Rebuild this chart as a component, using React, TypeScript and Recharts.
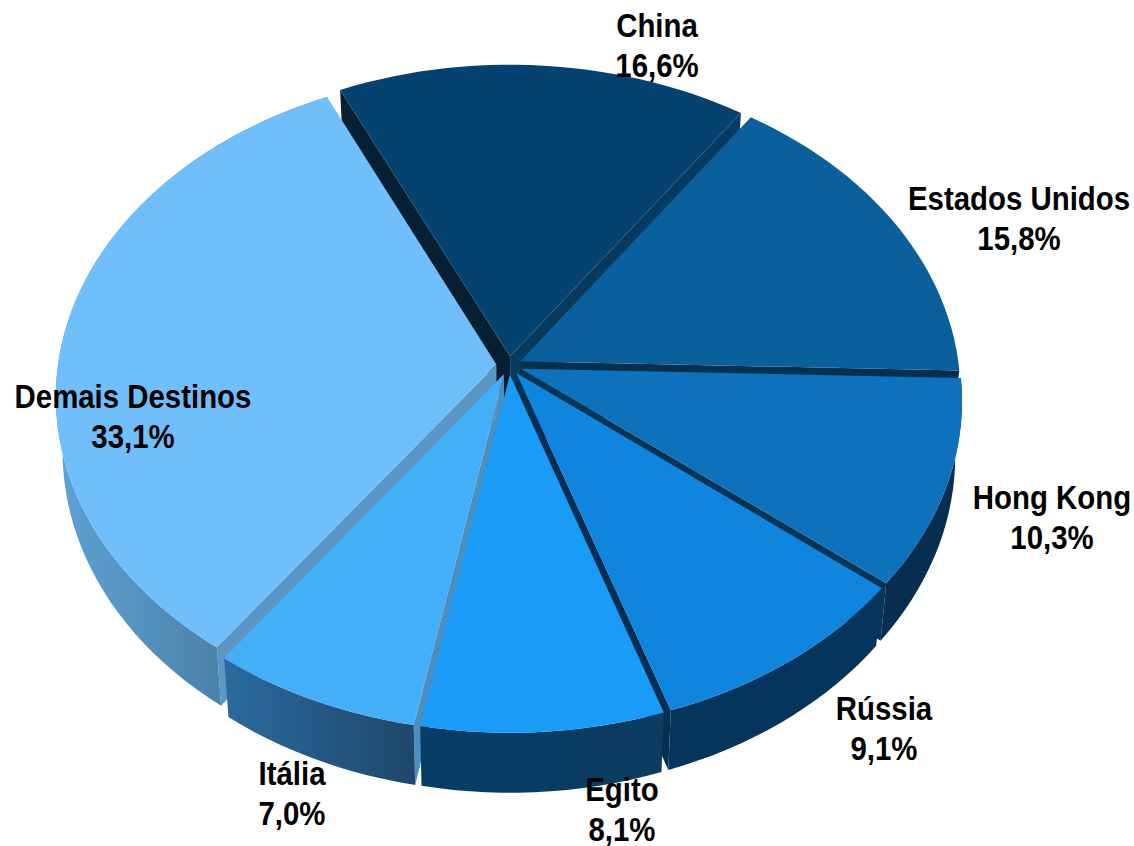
import { PieChart, Pie, Cell } from 'recharts';

const destinations = ['China', 'Estados Unidos', 'Hong Kong', 'Rússia', 'Egito', 'Itália', 'Demais Destinos'];
const shares = [16.6, 15.8, 10.3, 9.1, 8.1, 7.0, 33.1];

const faceColors = ['#05426f', '#0a609d', '#0d72bb', '#1085de', '#1a9bf8', '#44aff8', '#70bffb'];
const rimFills = ['none', 'none', '#072e4e', '#05355c', 'url(#rimEgito)', 'url(#rimItalia)', 'url(#rimDemais)'];
const startWalls = ['#061f33', null, null, null, null, '#4a8fc0', '#5b97c4'];
const endWalls = ['#073a5f', '#05304f', '#063457', '#052f52', null, null, null];

// label centre x and the baselines of both lines
const labelX = [657, 1019, 1052, 884, 622, 292, 133];
const labelY = [37, 210, 509, 720, 801, 785, 408];

const data = destinations.map((name, i) => ({ name, value: shares[i] }));

const WIDTH = 1134;
const HEIGHT = 846;
const CX = 509;
const CY = 365.5;
const RX = 453;
const SQUASH = 0.733; // ry / rx
const TILT = 0.1; // perspective strength
const EXPLODE = 0.028;
const RIM = 0.968;
const DEPTH = 54;

const rad = (deg: number) => (deg * Math.PI) / 180;

// disk coordinates (u right, v towards the viewer) to the screen
function project(u: number, v: number, lowered = false) {
  const w = 1 - TILT * v;
  let x = CX + (RX * u) / w;
  let y = CY + (RX * SQUASH * v) / w;
  if (lowered) {
    x = CX + (x - CX) * 0.985;
    y += DEPTH / w;
  }
  return [x, y];
}

function sliceGeometry(props: any) {
  const { startAngle, endAngle } = props;
  const mid = rad((startAngle + endAngle) / 2);
  const ou = Math.cos(mid) * EXPLODE;
  const ov = -Math.sin(mid) * EXPLODE;
  const steps = Math.max(4, Math.ceil(Math.abs(startAngle - endAngle) / 2));
  const rim: number[][] = [];
  for (let i = 0; i <= steps; i++) {
    const a = rad(startAngle + ((endAngle - startAngle) * i) / steps);
    rim.push([ou + Math.cos(a) * RIM, ov - Math.sin(a) * RIM]);
  }
  return { apex: [ou, ov], rim };
}

const toPath = (pts: number[][]) =>
  'M' + pts.map((p) => `${p[0].toFixed(1)},${p[1].toFixed(1)}`).join('L') + 'Z';

function sideWalls(props: any) {
  const { apex, rim } = sliceGeometry(props);
  const i = props.index ?? data.findIndex((d) => d.name === props.name);
  const wall = (edge: number[], fill: string) => (
    <path
      d={toPath([
        project(apex[0], apex[1]),
        project(edge[0], edge[1]),
        project(edge[0], edge[1], true),
        project(apex[0], apex[1], true),
      ])}
      fill={fill}
    />
  );
  return (
    <g>
      {startWalls[i] && wall(rim[0], startWalls[i] as string)}
      {endWalls[i] && wall(rim[rim.length - 1], endWalls[i] as string)}
    </g>
  );
}

function rimWall(props: any) {
  const { rim } = sliceGeometry(props);
  const i = props.index ?? data.findIndex((d) => d.name === props.name);
  const top = rim.map((p) => project(p[0], p[1]));
  const bottom = rim.map((p) => project(p[0], p[1], true)).reverse();
  return <path d={toPath([...top, ...bottom])} fill={rimFills[i]} />;
}

function topFace(props: any) {
  const { apex, rim } = sliceGeometry(props);
  const pts = [project(apex[0], apex[1]), ...rim.map((p) => project(p[0], p[1]))];
  return <path d={toPath(pts)} fill={props.fill} />;
}

function sliceLabel(props: any) {
  const i = props.index;
  const pct = `${shares[i].toFixed(1).replace('.', ',')}%`;
  return (
    <g transform={`translate(${labelX[i]},${labelY[i]}) scale(0.865,1)`} key={destinations[i]}>
      <text
        textAnchor="middle"
        fontFamily="'Liberation Sans', Arial, sans-serif"
        fontWeight="bold"
        fontSize={34}
        fill="#000"
      >
        <tspan x={0} y={0}>{destinations[i]}</tspan>
        <tspan x={0} y={40}>{pct}</tspan>
      </text>
    </g>
  );
}

const pieProps = {
  data,
  dataKey: 'value',
  nameKey: 'name',
  cx: CX,
  cy: CY,
  innerRadius: 0,
  outerRadius: RX,
  startAngle: 115,
  endAngle: -245,
  stroke: 'none',
  isAnimationActive: false,
};

export default function App() {
  return (
    <div style={{ position: 'absolute', left: 0, top: 0, width: WIDTH, height: HEIGHT }}>
      <PieChart width={WIDTH} height={HEIGHT} margin={{ top: 0, right: 0, bottom: 0, left: 0 }}>
        <defs>
          <linearGradient id="rimDemais" x1="0" y1="0" x2="1" y2="0">
            <stop offset="0" stopColor="#5ea2d6" />
            <stop offset="0.6" stopColor="#4c82a9" />
            <stop offset="1" stopColor="#5b8cb0" />
          </linearGradient>
          <linearGradient id="rimItalia" x1="0" y1="0" x2="1" y2="0">
            <stop offset="0" stopColor="#2a6b9f" />
            <stop offset="1" stopColor="#1f466a" />
          </linearGradient>
          <linearGradient id="rimEgito" x1="0" y1="0" x2="1" y2="0">
            <stop offset="0" stopColor="#063d67" />
            <stop offset="1" stopColor="#0c3c62" />
          </linearGradient>
        </defs>
        <Pie {...pieProps} shape={sideWalls} label={false} />
        <Pie {...pieProps} shape={rimWall} label={false} />
        <Pie {...pieProps} shape={topFace} labelLine={false} label={sliceLabel}>
          {data.map((d, i) => (
            <Cell key={d.name} fill={faceColors[i]} />
          ))}
        </Pie>
      </PieChart>
    </div>
  );
}
